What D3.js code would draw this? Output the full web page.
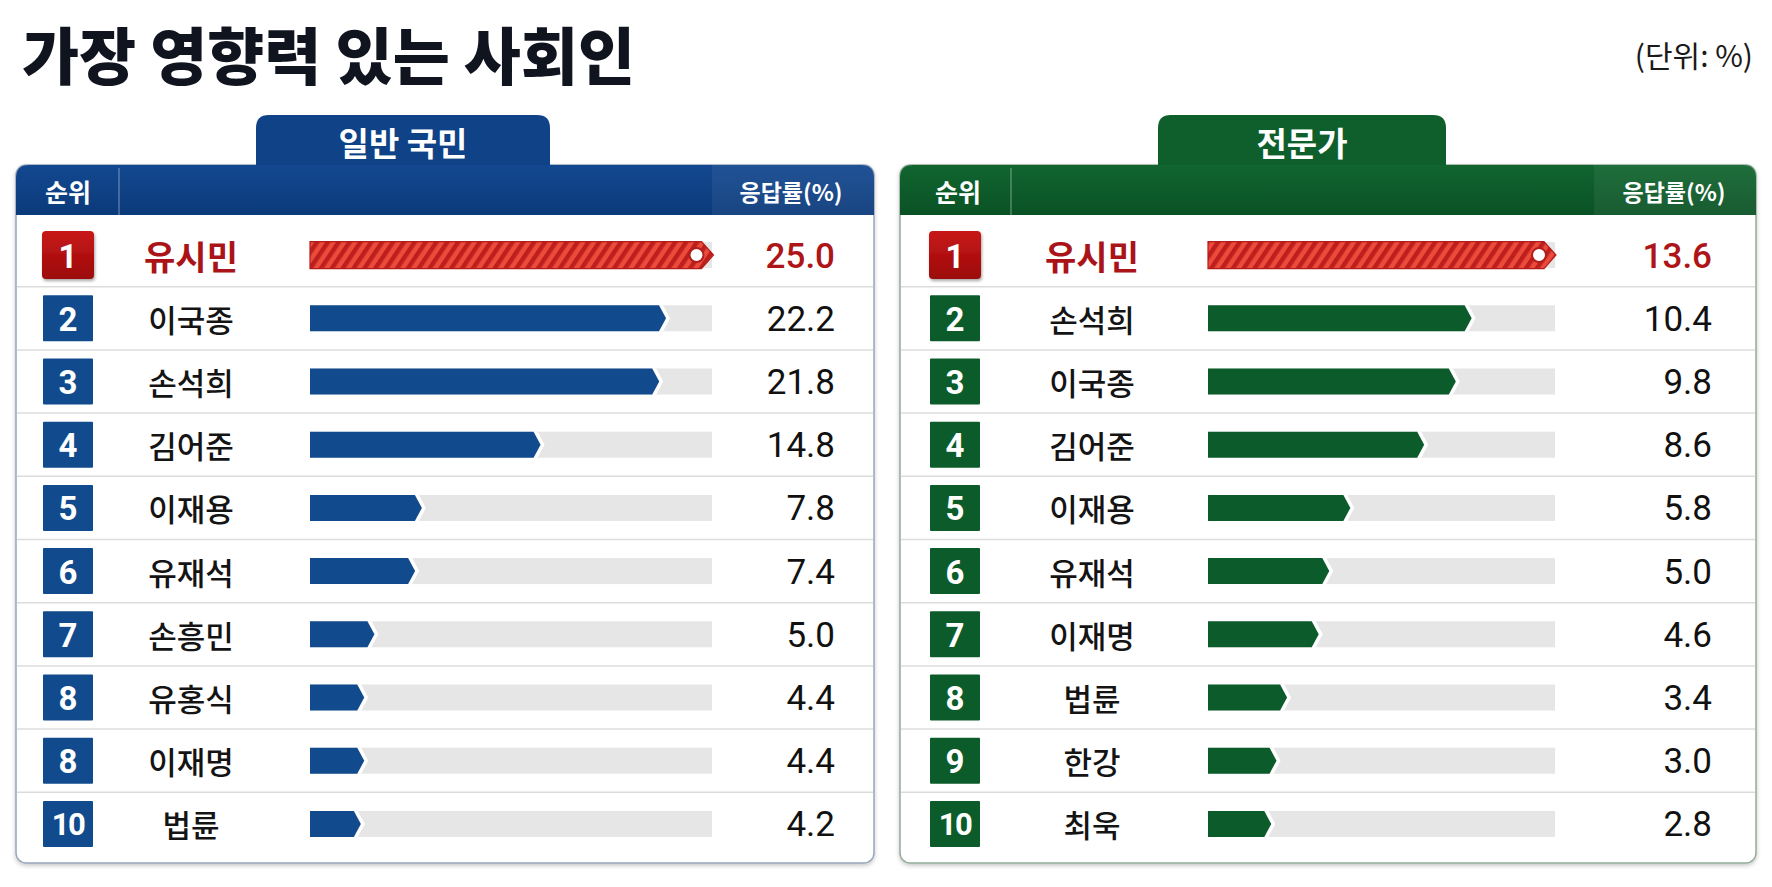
<!DOCTYPE html>
<html><head><meta charset="utf-8">
<script src="https://cdn.jsdelivr.net/npm/d3@7"></script>
<style>
html,body{margin:0;padding:0;background:#ffffff;}
svg{display:block;}
</style></head>
<body>
<svg id="chart" width="1772" height="887"></svg>
<script>
// ---------- data ----------
const titleText = "가장 영향력 있는 사회인";
const unitText = "(단위: %)";
const rankHeader = "순위";
const valueHeader = "응답률(%)";

const generalTitle = "일반 국민";
const generalRanks = ["1","2","3","4","5","6","7","8","8","10"];
const generalNames = ["유시민","이국종","손석희","김어준","이재용","유재석","손흥민","유홍식","이재명","법륜"];
const generalValues = [25.0, 22.2, 21.8, 14.8, 7.8, 7.4, 5.0, 4.4, 4.4, 4.2];

const expertTitle = "전문가";
const expertRanks = ["1","2","3","4","5","6","7","8","9","10"];
const expertNames = ["유시민","손석희","이국종","김어준","이재용","유재석","이재명","법륜","한강","최욱"];
const expertValues = [13.6, 10.4, 9.8, 8.6, 5.8, 5.0, 4.6, 3.4, 3.0, 2.8];

// ---------- layout ----------
const KR = "'Noto Sans CJK KR','Noto Sans',sans-serif";
const NUM = "Roboto,'Noto Sans',sans-serif";
const svg = d3.select("#chart");
const defs = svg.append("defs");

const stripe = defs.append("pattern").attr("id","stripe").attr("patternUnits","userSpaceOnUse")
  .attr("width",9).attr("height",9).attr("patternTransform","rotate(34)");
stripe.append("rect").attr("width",9).attr("height",9).attr("fill","#ec4b3c");
stripe.append("rect").attr("width",4.5).attr("height",9).attr("fill","#bd1f1c");

const redGrad = defs.append("linearGradient").attr("id","redBox").attr("x1",0).attr("y1",0).attr("x2",0).attr("y2",1);
redGrad.append("stop").attr("offset","0%").attr("stop-color","#c81616");
redGrad.append("stop").attr("offset","100%").attr("stop-color","#9c0c0c");

const sh = defs.append("filter").attr("id","shadow").attr("x","-10%").attr("y","-10%").attr("width","120%").attr("height","130%");
sh.append("feDropShadow").attr("dx",0).attr("dy",2).attr("stdDeviation",2).attr("flood-color","#000").attr("flood-opacity",0.22);
const sh2 = defs.append("filter").attr("id","boxShadow").attr("x","-20%").attr("y","-20%").attr("width","150%").attr("height","150%");
sh2.append("feDropShadow").attr("dx",1).attr("dy",2).attr("stdDeviation",1.5).attr("flood-color","#000").attr("flood-opacity",0.35);

function headGrad(id, c1, c2){
  const g = defs.append("linearGradient").attr("id",id).attr("x1",0).attr("y1",0).attr("x2",0).attr("y2",1);
  g.append("stop").attr("offset","0%").attr("stop-color",c1);
  g.append("stop").attr("offset","100%").attr("stop-color",c2);
}
headGrad("blueHead","#134890","#0b3a7a");
headGrad("greenHead","#11652f","#0a5225");

// title
svg.append("text").attr("x",22).attr("y",53).attr("dominant-baseline","central")
  .attr("font-family",KR).attr("font-weight",900).attr("font-size",62)
  .attr("fill","#10141f").text(titleText);
svg.append("text").attr("x",1753).attr("y",54).attr("dominant-baseline","central")
  .attr("text-anchor","end").attr("font-family",KR).attr("font-size",30)
  .attr("fill","#1a1a1a").text(unitText);

function topRounded(x, y, w, h, r){
  return `M${x},${y+h}V${y+r}Q${x},${y} ${x+r},${y}H${x+w-r}Q${x+w},${y} ${x+w},${y+r}V${y+h}Z`;
}

const y = d3.scaleBand().domain(d3.range(10)).range([223.5, 855.5]);

function drawPanel(p){
  const g = svg.append("g");
  const headTop = 165, headBot = 215, bottom = 863;
  // body
  g.append("rect").attr("x",p.x0).attr("y",headTop).attr("width",p.x1-p.x0).attr("height",bottom-headTop)
    .attr("rx",10).attr("fill","#fff").attr("stroke",p.border).attr("stroke-width",1.5).attr("filter","url(#shadow)");
  // tab
  g.append("path").attr("d",topRounded(p.tab0,115,p.tab1-p.tab0,52,13)).attr("fill",p.tabFill);
  g.append("text").attr("x",(p.tab0+p.tab1)/2).attr("y",142).attr("dominant-baseline","central")
    .attr("text-anchor","middle").attr("font-family",KR).attr("font-weight",700).attr("font-size",33)
    .attr("fill","#fff").text(p.title);
  // header
  g.append("path").attr("d",topRounded(p.x0,headTop,p.x1-p.x0,headBot-headTop,13)).attr("fill",p.headFill);
  const lx = p.x1-162, r = 13;
  g.append("path").attr("d",`M${lx},${headBot}V${headTop}H${p.x1-r}Q${p.x1},${headTop} ${p.x1},${headTop+r}V${headBot}Z`)
    .attr("fill","#ffffff").attr("opacity",0.06);
  g.append("line").attr("x1",p.sepX).attr("x2",p.sepX).attr("y1",headTop+3).attr("y2",headBot)
    .attr("stroke","#ffffff").attr("stroke-opacity",0.3).attr("stroke-width",1.5);
  g.append("text").attr("x",p.rankCx).attr("y",191).attr("dominant-baseline","central")
    .attr("text-anchor","middle").attr("font-family",KR).attr("font-weight",700).attr("font-size",25)
    .attr("fill","#fff").text(rankHeader);
  g.append("text").attr("x",p.valHeadCx).attr("y",191).attr("dominant-baseline","central")
    .attr("text-anchor","middle").attr("font-family",KR).attr("font-weight",700).attr("font-size",23)
    .attr("fill","#fff").text(valueHeader);

  // dividers
  g.selectAll("line.div").data(d3.range(1,10)).join("line").attr("class","div")
    .attr("x1",p.x0+1).attr("x2",p.x1-1)
    .attr("y1",i=>y(i)).attr("y2",i=>y(i))
    .attr("stroke","#dcdcdc").attr("stroke-width",1.5);

  const x = d3.scaleLinear().domain(p.domain).range([p.bar0, p.barEnd]);
  const rows = g.selectAll("g.row").data(p.values.map((v,i)=>({v,i,name:p.names[i],rank:p.ranks[i]})))
    .join("g").attr("class","row");
  const cy = d=>y(d.i)+y.bandwidth()/2;

  // rank boxes
  rows.append("rect")
    .attr("x",d=>d.i===0?p.box0-1:p.box0).attr("width",d=>d.i===0?52:50)
    .attr("y",d=>cy(d)-(d.i===0?24:23)).attr("height",d=>d.i===0?48:46)
    .attr("rx",d=>d.i===0?4:1)
    .attr("fill",d=>d.i===0?"url(#redBox)":p.main)
    .attr("filter",d=>d.i===0?"url(#boxShadow)":null);
  rows.append("text").attr("x",p.box0+25).attr("y",d=>cy(d)+1).attr("dominant-baseline","central")
    .attr("text-anchor","middle").attr("font-family",NUM).attr("font-weight",700)
    .attr("font-size",d=>d.rank.length>1?31:33).attr("letter-spacing",d=>d.rank.length>1?-1.5:0)
    .attr("fill","#fff").text(d=>d.rank);

  // names
  rows.append("text").attr("x",p.nameCx).attr("y",d=>cy(d)).attr("dominant-baseline","central")
    .attr("text-anchor","middle").attr("font-family",KR)
    .attr("font-weight",d=>d.i===0?700:500).attr("font-size",d=>d.i===0?34:31)
    .attr("fill",d=>d.i===0?"#aa1419":"#141414").text(d=>d.name);

  // track
  rows.append("rect").attr("x",p.bar0).attr("width",p.trackEnd-p.bar0)
    .attr("y",d=>cy(d)-13).attr("height",26).attr("fill","#e6e6e6");

  // white gap behind chevron
  rows.filter(d=>d.i>0).append("path")
    .attr("d",d=>{const t=x(d.v), yt=cy(d)-13, yb=cy(d)+13, c=cy(d);
      return `M${t-9},${yt}H${t-3}L${t+4},${c}L${t-3},${yb}H${t-9}Z`;})
    .attr("fill","#fff");
  // bars
  rows.append("path")
    .attr("d",d=>{const t=x(d.v), dep=d.i===0?12:7, h=d.i===0?13.5:13, yt=cy(d)-h, yb=cy(d)+h, c=cy(d);
      return `M${p.bar0},${yt}H${t-dep}L${t},${c}L${t-dep},${yb}H${p.bar0}Z`;})
    .attr("fill",d=>d.i===0?"url(#stripe)":p.main)
    .attr("stroke",d=>d.i===0?"#b21d1b":"none").attr("stroke-width",1.2);
  rows.filter(d=>d.i===0).append("circle")
    .attr("cx",d=>x(d.v)-17).attr("cy",d=>cy(d)).attr("r",7)
    .attr("fill","#fff").attr("stroke","#b21d1b").attr("stroke-width",2);

  // values
  rows.append("text").attr("x",p.valRight).attr("y",d=>cy(d)+1).attr("dominant-baseline","central")
    .attr("text-anchor","end").attr("font-family",NUM)
    .attr("font-weight",d=>d.i===0?500:400).attr("font-size",35)
    .attr("fill",d=>d.i===0?"#ad1519":"#111").text(d=>d.v.toFixed(1));
}

drawPanel({x0:16, x1:874, tab0:256, tab1:550, title:generalTitle,
  sepX:119, rankCx:68, valHeadCx:791, box0:43, nameCx:191,
  bar0:310, trackEnd:712, barEnd:713.5, domain:[1.2,25], valRight:835,
  ranks:generalRanks, names:generalNames, values:generalValues,
  main:"#114b8d", tabFill:"#0f4286", headFill:"url(#blueHead)", border:"#97a6ba"});

drawPanel({x0:900, x1:1756, tab0:1158, tab1:1446, title:expertTitle,
  sepX:1011, rankCx:958, valHeadCx:1674, box0:930, nameCx:1092,
  bar0:1208, trackEnd:1555, barEnd:1556, domain:[0.4,13.6], valRight:1712,
  ranks:expertRanks, names:expertNames, values:expertValues,
  main:"#0c5c2b", tabFill:"#0f5f2c", headFill:"url(#greenHead)", border:"#93ad9b"});
</script>
</body></html>
